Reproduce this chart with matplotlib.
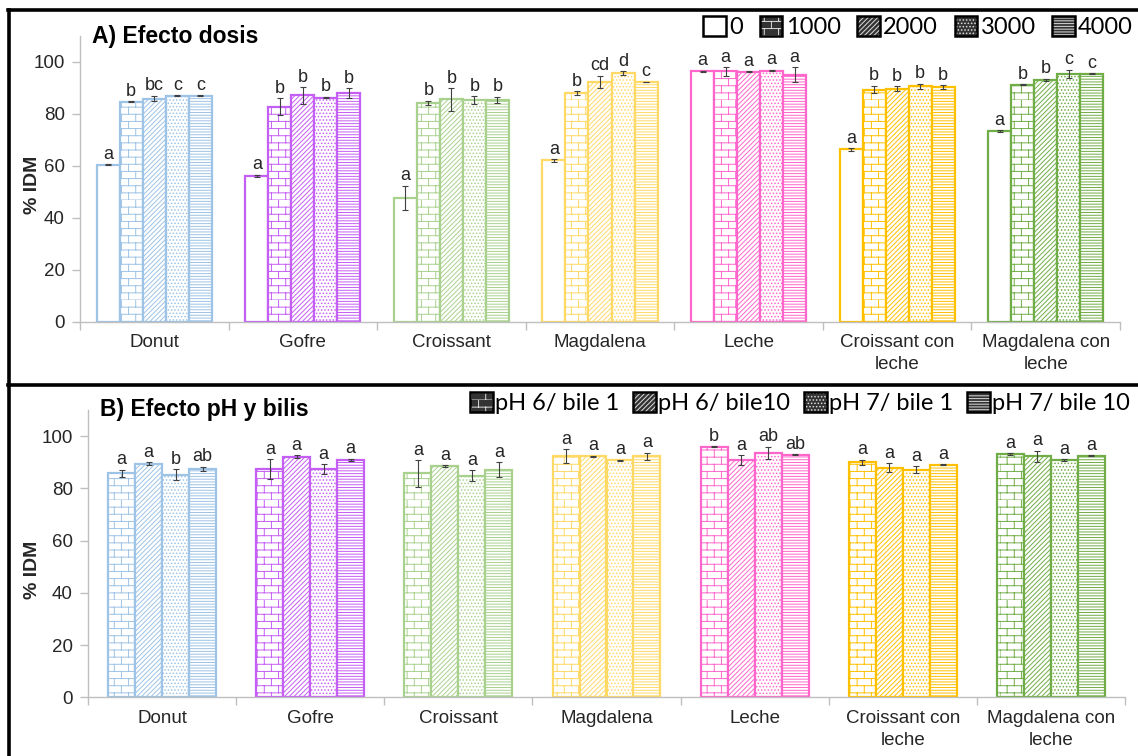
import matplotlib
matplotlib.use("Agg")
import matplotlib.pyplot as plt
import numpy as np
from matplotlib import hatch as mhatch
from matplotlib.path import Path
from matplotlib.patches import Patch
from matplotlib.lines import Line2D
from matplotlib.legend_handler import HandlerTuple


class BrickHatch(mhatch.HatchPatternBase):
    """Running-bond brick wall; requested with the 'O' hatch character."""

    def __init__(self, hatch, density):
        self.num_rows = hatch.count("O") * 7
        self.num_rows += self.num_rows % 2
        per_row = 2 + 2 * (self.num_rows // 2)
        self.num_vertices = self.num_rows * per_row

    def set_vertices_and_codes(self, vertices, codes):
        n = self.num_rows
        step = 1.0 / n
        pts = []
        for i in range(n):
            y0 = i * step
            pts += [(0.0, y0), (1.0, y0)]
            shift = (i % 2) * step
            for k in range(n // 2):
                x = shift + 2 * k * step
                pts += [(x, y0), (x, y0 + step)]
        vertices[:] = pts
        codes[0::2] = Path.MOVETO
        codes[1::2] = Path.LINETO


mhatch._hatch_types[:] = [BrickHatch if t is mhatch.LargeCircles else t
                          for t in mhatch._hatch_types]

plt.rcParams["font.family"] = ["Liberation Sans", "DejaVu Sans"]
plt.rcParams["hatch.linewidth"] = 0.7

categories = ["Donut", "Gofre", "Croissant", "Magdalena", "Leche",
              "Croissant con\nleche", "Magdalena con\nleche"]
cat_colors = ["#9dc3e6", "#c55ef5", "#a9d18e", "#ffd966", "#ff66cc",
              "#ffc000", "#70ad47"]

# A) dose effect
dose_labels = ["0", "1000", "2000", "3000", "4000"]
dose_0 = [60.5, 56.1, 47.7, 62.1, 96.4, 66.4, 73.5]
dose_0_err = [0.2, 0.5, 4.6, 0.5, 0.2, 0.5, 0.3]
dose_0_sig = ["a", "a", "a", "a", "a", "a", "a"]
dose_1000 = [84.7, 82.8, 84.3, 87.9, 96.4, 89.4, 91.3]
dose_1000_err = [0.2, 3.2, 0.8, 0.8, 1.7, 1.4, 0.2]
dose_1000_sig = ["b", "b", "b", "b", "a", "b", "b"]
dose_2000 = [85.9, 87.2, 85.6, 92.3, 96.2, 89.7, 93.1]
dose_2000_err = [1.1, 3.2, 4.4, 2.4, 0.2, 1.0, 0.4]
dose_2000_sig = ["bc", "b", "b", "cd", "a", "b", "b"]
dose_3000 = [87.0, 86.3, 85.4, 95.6, 96.7, 90.7, 95.4]
dose_3000_err = [0.2, 0.3, 1.5, 0.8, 0.3, 1.0, 1.7]
dose_3000_sig = ["c", "b", "b", "d", "a", "b", "c"]
dose_4000 = [87.0, 88.1, 85.4, 92.3, 95.0, 90.3, 95.4]
dose_4000_err = [0.2, 1.9, 1.3, 0.1, 2.9, 0.8, 0.2]
dose_4000_sig = ["c", "b", "b", "c", "a", "b", "c"]

# B) pH / bile effect
ph_labels = ["pH 6/ bile 1", "pH 6/ bile10", "pH 7/ bile 1", "pH 7/ bile 10"]
ph6_b1 = [85.7, 87.4, 85.7, 92.3, 95.9, 89.9, 93.1]
ph6_b1_err = [1.5, 3.8, 5.1, 2.7, 0.2, 1.0, 0.3]
ph6_b1_sig = ["a", "a", "a", "a", "b", "a", "a"]
ph6_b10 = [89.4, 92.1, 88.5, 92.3, 90.8, 87.9, 92.3]
ph6_b10_err = [0.5, 0.6, 0.4, 0.2, 2.0, 1.8, 2.1]
ph6_b10_sig = ["a", "a", "a", "a", "a", "a", "a"]
ph7_b1 = [85.3, 87.4, 84.9, 90.8, 93.5, 87.2, 90.8]
ph7_b1_err = [2.1, 1.9, 2.0, 0.2, 2.4, 1.4, 0.3]
ph7_b1_sig = ["b", "a", "a", "a", "ab", "a", "a"]
ph7_b10 = [87.4, 90.9, 87.2, 92.3, 92.8, 89.1, 92.4]
ph7_b10_err = [0.9, 0.4, 2.9, 1.3, 0.2, 0.2, 0.2]
ph7_b10_sig = ["ab", "a", "a", "a", "ab", "a", "a"]

BRICK, DIAG, DOTS, LINES = "OO", "///////", ".....", "------"

dose_series = [(dose_0, dose_0_err, dose_0_sig, None),
               (dose_1000, dose_1000_err, dose_1000_sig, BRICK),
               (dose_2000, dose_2000_err, dose_2000_sig, DIAG),
               (dose_3000, dose_3000_err, dose_3000_sig, DOTS),
               (dose_4000, dose_4000_err, dose_4000_sig, LINES)]
ph_series = [(ph6_b1, ph6_b1_err, ph6_b1_sig, BRICK),
             (ph6_b10, ph6_b10_err, ph6_b10_sig, DIAG),
             (ph7_b1, ph7_b1_err, ph7_b1_sig, DOTS),
             (ph7_b10, ph7_b10_err, ph7_b10_sig, LINES)]

W, H = 1138, 756
AXIS_GREY = "#bfbfbf"
TEXT = "#262626"


def draw_panel(ax, series, width, title, left_px, label_y):
    x = np.arange(len(categories))
    n = len(series)
    for i, (vals, errs, sigs, hatch) in enumerate(series):
        xs = x + (i - (n - 1) / 2) * width
        ax.bar(xs, vals, width, facecolor="white", edgecolor=cat_colors,
               hatch=hatch, linewidth=1.6, zorder=2)
        ax.errorbar(xs, vals, yerr=errs, fmt="none", ecolor="#404040",
                    elinewidth=0.8, capsize=2.5, capthick=0.8, zorder=3)
        for xi, v, e, s in zip(xs, vals, errs, sigs):
            ax.annotate(s, (xi, v + e), xytext=(0, 1.0),
                        textcoords="offset points", ha="center",
                        va="bottom", fontsize=13, color=TEXT)

    ax.set_xlim(-0.5, len(categories) - 0.5)
    ax.set_ylim(0, 110)
    ax.set_yticks(np.arange(0, 101, 20))
    ax.set_xticks(np.arange(-0.5, len(categories), 1.0))
    ax.set_xticklabels([])
    ax.set_xticks(x, minor=True)
    ax.set_xticklabels(categories, minor=True, fontsize=13.5, color=TEXT,
                       linespacing=1.4)
    ax.tick_params(axis="x", which="major", direction="out", length=6,
                   color=AXIS_GREY, width=1)
    ax.tick_params(axis="x", which="minor", length=0, pad=9)
    ax.tick_params(axis="y", direction="out", length=6, color=AXIS_GREY,
                   width=1, labelsize=13.5, labelcolor=TEXT, pad=5)
    for side in ("top", "right"):
        ax.spines[side].set_visible(False)
    for side in ("left", "bottom"):
        ax.spines[side].set_color(AXIS_GREY)
        ax.spines[side].set_linewidth(1)
    ax.set_ylabel("% IDM", fontsize=14, fontweight="bold", color=TEXT)
    axes_w = ax.get_position().width * W
    ax.yaxis.set_label_coords(-(left_px - 41) / axes_w, label_y)
    ax.text(0.012, 1.0, title, transform=ax.transAxes, fontsize=16.5,
            fontweight="bold", color="black", va="center", ha="left")


fig = plt.figure(figsize=(W / 100, H / 100), dpi=100)
fig.patch.set_facecolor("white")

ax_a = fig.add_axes([80 / W, 1 - 321.7 / H, 1040 / W, 285.7 / H])
draw_panel(ax_a, dose_series, 0.155, "A) Efecto dosis", 80, 0.48)

ax_b = fig.add_axes([88 / W, 1 - 697.3 / H, 1037 / W, 287.3 / H])
draw_panel(ax_b, ph_series, 0.182, "B) Efecto pH y bilis", 88, 0.445)


def legend_handle(hatch):
    border = Patch(facecolor="none", edgecolor="black", linewidth=1.8)
    if hatch is None:
        return Patch(facecolor="white", edgecolor="black", linewidth=1.8)
    fill = Patch(facecolor="#333333", edgecolor="#dddddd", hatch=hatch,
                 linewidth=0)
    return (fill, border)


tuple_map = {tuple: HandlerTuple(ndivide=1, pad=0)}

leg_font = {"family": ["Lato", "DejaVu Sans"], "size": 17}
fig.legend([legend_handle(s[3]) for s in dose_series], dose_labels,
           loc="center right", bbox_to_anchor=(1133 / W, 1 - 27 / H),
           ncol=5, frameon=False, prop=leg_font, handlelength=0.95,
           handleheight=0.95, handletextpad=0.15, columnspacing=0.7,
           borderpad=0, borderaxespad=0, handler_map=tuple_map)

leg_font_b = {"family": ["Lato", "DejaVu Sans"], "size": 17}
fig.legend([legend_handle(s[3]) for s in ph_series], ph_labels,
           loc="center right", bbox_to_anchor=(1130 / W, 1 - 403 / H),
           ncol=4, frameon=False, prop=leg_font_b, handlelength=0.95,
           handleheight=0.95, handletextpad=0.1, columnspacing=0.6,
           borderpad=0, borderaxespad=0, handler_map=tuple_map)

# black frame around and between the two panels
frame = dict(transform=fig.transFigure, color="black", linewidth=2.6)
fig.add_artist(Line2D([9 / W, 9 / W], [0, 1 - 10 / H], **frame))
fig.add_artist(Line2D([8 / W, 1], [1 - 10 / H, 1 - 10 / H], **frame))
fig.add_artist(Line2D([8 / W, 1], [1 - 385 / H, 1 - 385 / H], **frame))

fig.savefig("out.png", dpi=100)
